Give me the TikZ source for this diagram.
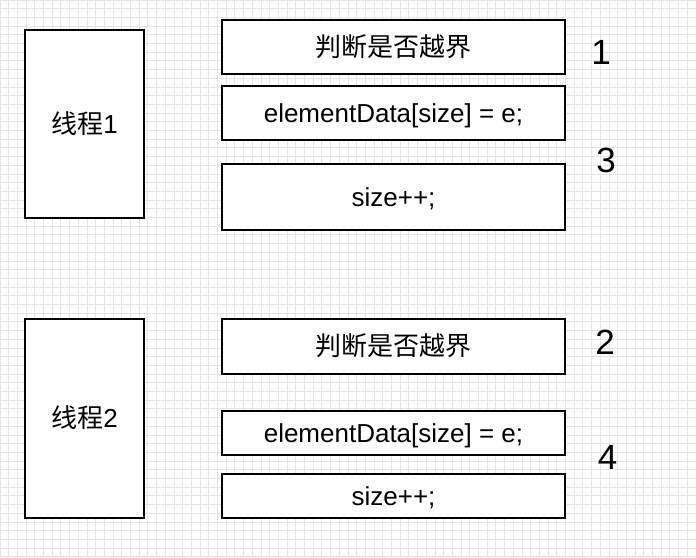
\documentclass[tikz,border=0pt]{standalone}
\usepackage{fontspec}
\setmainfont{Liberation Sans}
\newfontfamily\cjk{Noto Sans CJK SC}
\definecolor{gridgray}{RGB}{228,228,228}
\tikzset{
  gridline/.style={draw=gridgray, line width=1pt},
  box/.style={draw=black, line width=2.2pt, fill=white, rectangle, inner sep=0pt,
    font=\fontsize{26}{30}\selectfont, text height=18.6pt, text depth=0pt},
  num/.style={inner sep=0pt, font=\fontsize{35}{40}\selectfont, text height=25pt, text depth=0pt}
}
\begin{document}
\begin{tikzpicture}[x=1pt,y=-1pt]
\useasboundingbox (0,0) rectangle (696,557);
\fill[white] (0,0) rectangle (696,557);
\foreach \i in {0,...,80} {
  \draw[gridline] (\i*8.7,0) -- (\i*8.7,557);
}
\foreach \j in {0,...,64} {
  \draw[gridline] (0,\j*8.7) -- (696,\j*8.7);
}
% threads
\node[box, minimum width=119pt, minimum height=188pt] (t1) at (84.5,124) {{\cjk 线程}1};
\node[box, minimum width=119pt, minimum height=199pt] (t2) at (84.5,418.5) {{\cjk 线程}2};
% thread 1 steps
\node[box, minimum width=343pt, minimum height=54pt] (a1) at (393.5,47) {\cjk 判断是否越界};
\node[box, minimum width=343pt, minimum height=54pt] (a2) at (393.5,113) {elementData[size] = e;};
\node[box, minimum width=343pt, minimum height=66pt] (a3) at (393.5,197) {size++;};
% thread 2 steps
\node[box, minimum width=343pt, minimum height=55pt] (b1) at (393.5,346.5) {\cjk 判断是否越界};
\node[box, minimum width=343pt, minimum height=44pt] (b2) at (393.5,433) {elementData[size] = e;};
\node[box, minimum width=343pt, minimum height=44pt] (b3) at (393.5,496) {size++;};
% order numbers
\node[num] (n1) at (601,52) {1};
\node[num] (n3) at (606,159.5) {3};
\node[num] (n2) at (605,342) {2};
\node[num] (n4) at (607.5,457) {4};
\end{tikzpicture}
\end{document}
